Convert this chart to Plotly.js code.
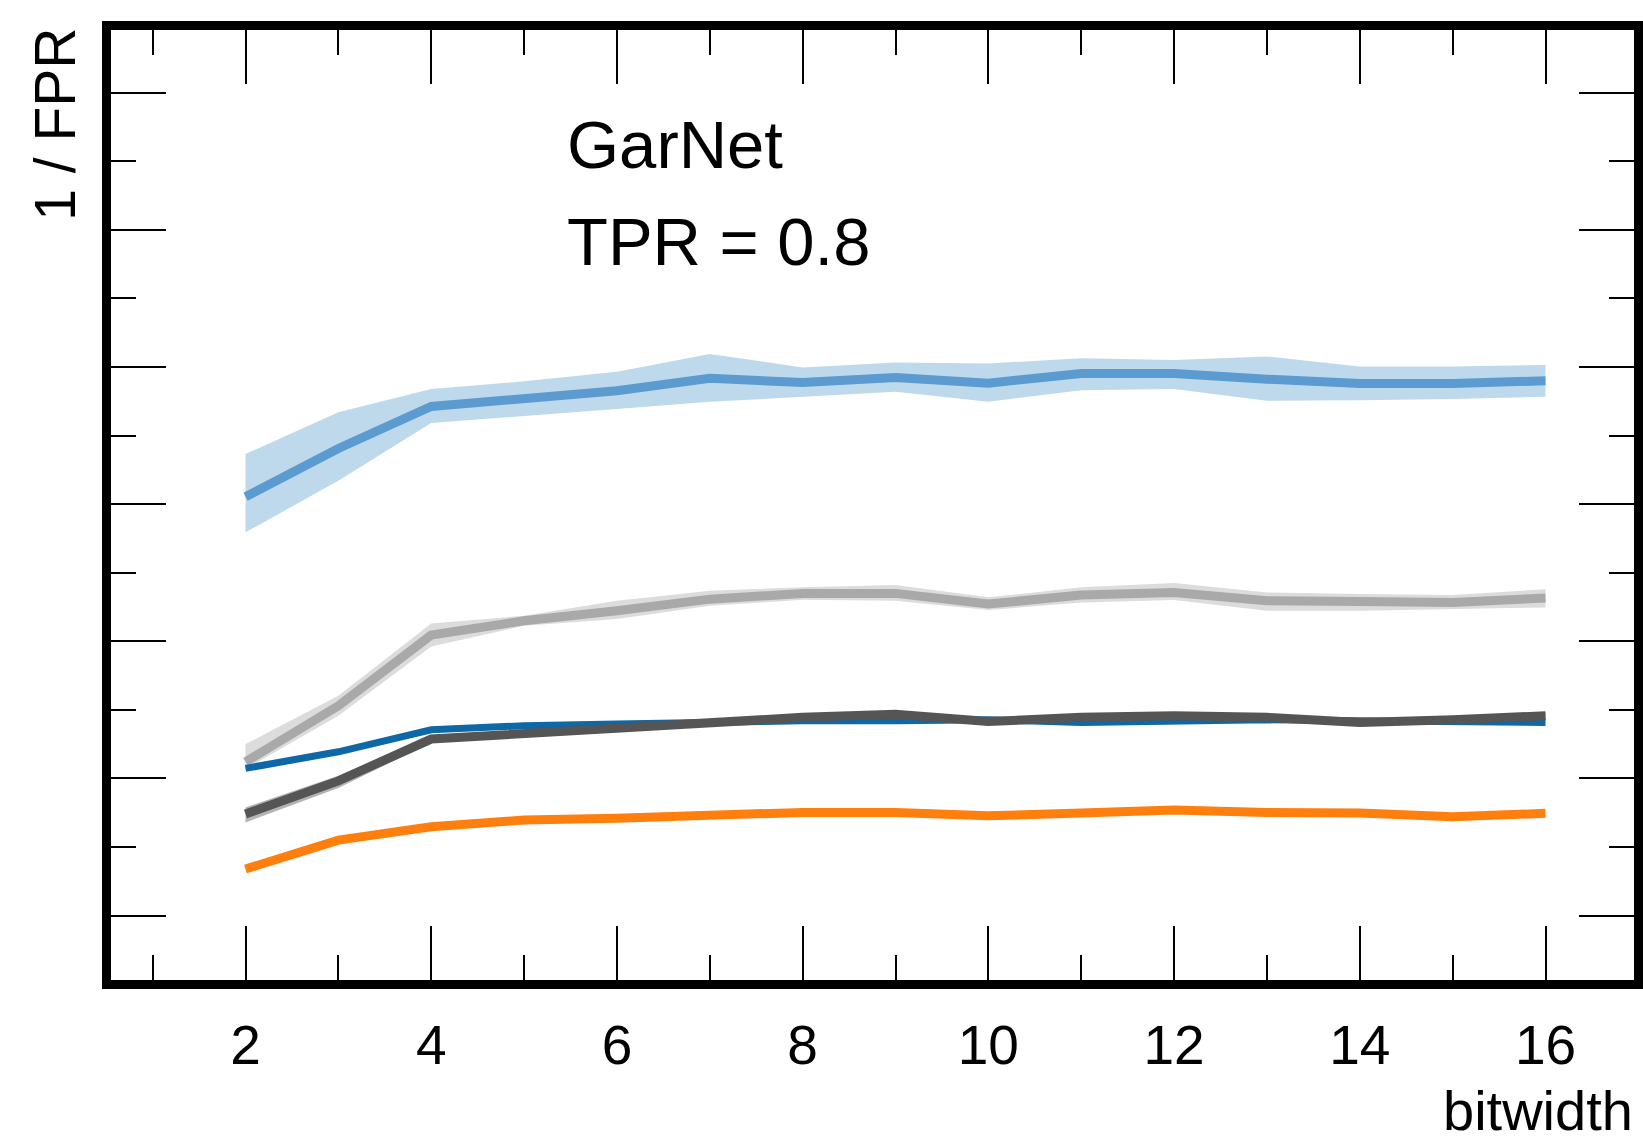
<!DOCTYPE html>
<html>
<head>
<meta charset="utf-8">
<script src="https://cdn.plot.ly/plotly-3.0.1.min.js"></script>
<style>
  html, body { margin: 0; padding: 0; background: #ffffff; }
  #chart { width: 1643px; height: 1142px; }
</style>
</head>
<body>
<div id="chart"></div>
<script>
// ---- data (y axis is unlabeled, arbitrary units) ----
const bitwidth = [2, 3, 4, 5, 6, 7, 8, 9, 10, 11, 12, 13, 14, 15, 16];

const lightBlueMean  = [4.053, 4.406, 4.712, 4.766, 4.826, 4.917, 4.887, 4.924, 4.882, 4.953, 4.953, 4.911, 4.880, 4.880, 4.899];
const lightBlueUpper = [4.365, 4.669, 4.839, 4.895, 4.965, 5.094, 4.997, 5.033, 5.026, 5.063, 5.050, 5.077, 5.004, 5.004, 5.014];
const lightBlueLower = [3.794, 4.170, 4.591, 4.640, 4.693, 4.746, 4.783, 4.819, 4.746, 4.831, 4.839, 4.753, 4.758, 4.766, 4.783];

const lightGrayMean  = [2.121, 2.529, 3.045, 3.149, 3.222, 3.307, 3.349, 3.349, 3.271, 3.337, 3.356, 3.295, 3.290, 3.283, 3.315];
const lightGrayUpper = [2.250, 2.602, 3.130, 3.186, 3.295, 3.368, 3.393, 3.410, 3.320, 3.393, 3.424, 3.356, 3.344, 3.337, 3.380];
const lightGrayLower = [2.068, 2.456, 2.962, 3.113, 3.162, 3.258, 3.302, 3.295, 3.227, 3.283, 3.300, 3.222, 3.222, 3.234, 3.247];

const darkBlueMean   = [2.073, 2.194, 2.354, 2.384, 2.396, 2.413, 2.420, 2.420, 2.427, 2.408, 2.420, 2.427, 2.420, 2.413, 2.408];

const darkGrayMean   = [1.740, 1.982, 2.287, 2.330, 2.359, 2.403, 2.445, 2.467, 2.415, 2.445, 2.457, 2.445, 2.408, 2.427, 2.457];
const darkGrayUpper  = [1.788, 2.020, 2.310, 2.350, 2.380, 2.425, 2.468, 2.490, 2.437, 2.467, 2.479, 2.467, 2.430, 2.449, 2.485];
const darkGrayLower  = [1.679, 1.930, 2.262, 2.308, 2.337, 2.381, 2.423, 2.445, 2.393, 2.423, 2.435, 2.423, 2.386, 2.405, 2.432];

const orangeMean     = [1.339, 1.550, 1.647, 1.696, 1.710, 1.727, 1.752, 1.752, 1.727, 1.747, 1.769, 1.752, 1.747, 1.720, 1.745];

const xTickVals  = [2, 4, 6, 8, 10, 12, 14, 16];
const xTickText  = ["2", "4", "6", "8", "10", "12", "14", "16"];
const xMinorVals = [1, 3, 5, 7, 9, 11, 13, 15];
const yTickVals  = [1, 2, 3, 4, 5, 6, 7];
const yMinorVals = [1.5, 2.5, 3.5, 4.5, 5.5, 6.5];

const labelText  = ["GarNet", "TPR = 0.8"];
const xTitle = "bitwidth";
const yTitle = "1 / FPR";

// ---- styles ----
const FONT = "Liberation Sans, Arial, Helvetica, sans-serif";

function band(lower, upper, color) {
  return [
    { x: bitwidth, y: lower, mode: "lines", line: { width: 0, color: color }, hoverinfo: "skip", showlegend: false },
    { x: bitwidth, y: upper, mode: "lines", line: { width: 0, color: color }, fill: "tonexty", fillcolor: color, hoverinfo: "skip", showlegend: false }
  ];
}
function line(y, color, width) {
  return { x: bitwidth, y: y, mode: "lines", line: { color: color, width: width }, showlegend: false };
}

const traces = [
  ...band(lightBlueLower, lightBlueUpper, "#bfd9ec"),
  line(lightBlueMean, "#5b9bd0", 9),
  ...band(lightGrayLower, lightGrayUpper, "#dcdcdc"),
  line(lightGrayMean, "#a9a9a9", 9),
  line(darkBlueMean, "#0e67a6", 7),
  ...band(darkGrayLower, darkGrayUpper, "#b4b4b4"),
  line(darkGrayMean, "#555555", 9),
  line(orangeMean, "#ff7f0e", 9)
];

const layout = {
  width: 1643,
  height: 1142,
  margin: { l: 111, r: 9, t: 30, b: 162, pad: 0 },
  paper_bgcolor: "#ffffff",
  plot_bgcolor: "#ffffff",
  showlegend: false,
  font: { family: FONT, color: "#000000" },
  xaxis: {
    range: [0.5516, 16.953],
    tickmode: "array",
    tickvals: xTickVals,
    ticktext: xTickText,
    ticks: "inside",
    ticklen: 54,
    tickwidth: 2,
    tickcolor: "#000000",
    minor: { tickmode: "array", tickvals: xMinorVals, ticks: "inside", ticklen: 25, tickwidth: 2, tickcolor: "#000000" },
    showline: true,
    linewidth: 9,
    linecolor: "#000000",
    mirror: "ticks",
    showgrid: false,
    zeroline: false,
    tickfont: { family: FONT, size: 55, color: "#000000" },
    ticklabelstandoff: 9
  },
  yaxis: {
    range: [0.530, 7.457],
    tickmode: "array",
    tickvals: yTickVals,
    ticks: "inside",
    ticklen: 55,
    tickwidth: 2,
    tickcolor: "#000000",
    minor: { tickmode: "array", tickvals: yMinorVals, ticks: "inside", ticklen: 25, tickwidth: 2, tickcolor: "#000000" },
    showticklabels: false,
    showline: true,
    linewidth: 9,
    linecolor: "#000000",
    mirror: "ticks",
    showgrid: false,
    zeroline: false
  },
  annotations: [
    { text: labelText[0], xref: "paper", yref: "paper", x: 0.2981, y: 0.8800, xanchor: "left", yanchor: "middle", showarrow: false, font: { family: FONT, size: 67, color: "#000000" } },
    { text: labelText[1], xref: "paper", yref: "paper", x: 0.2981, y: 0.7778, xanchor: "left", yanchor: "middle", showarrow: false, font: { family: FONT, size: 67, color: "#000000" } },
    { text: xTitle, xref: "paper", yref: "paper", x: 1.0, y: -0.1370, xanchor: "right", yanchor: "middle", borderpad: 0, showarrow: false, font: { family: FONT, size: 56, color: "#000000" } },
    { text: yTitle, xref: "paper", yref: "paper", x: -0.0373, y: 1.0042, xanchor: "center", yanchor: "top", textangle: -90, showarrow: false, font: { family: FONT, size: 57, color: "#000000" } }
  ]
};

Plotly.newPlot("chart", traces, layout, { staticPlot: true, displayModeBar: false });
</script>
</body>
</html>
